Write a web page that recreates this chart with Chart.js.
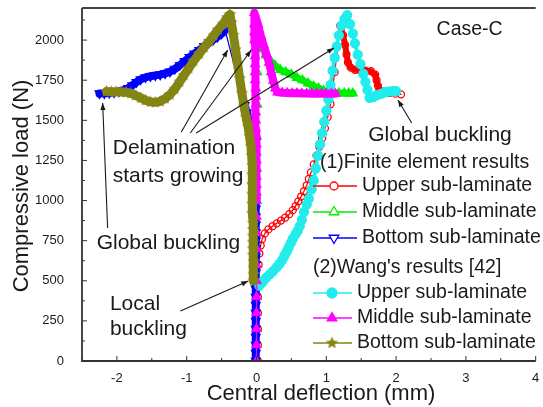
<!DOCTYPE html>
<html>
<head>
<meta charset="utf-8">
<script src="https://cdn.jsdelivr.net/npm/chart.js@4.4.0/dist/chart.umd.min.js"></script>
<style>
  body { margin: 0; background: #fff; }
  #wrap { width: 543px; height: 407px; }
</style>
</head>
<body>
<div id="wrap"><canvas id="plot" width="543" height="407"></canvas></div>
<script>
// [central deflection (mm), compressive load (N)]
const feUpper = [[0.02,0],[0.02,100],[0.02,200],[0.02,300],[0.02,400],[0.02,500],[0.03,600],[0.04,670],[0.06,720],[0.08,760],[0.12,795],[0.17,820],[0.23,840],[0.29,858],[0.35,875],[0.41,893],[0.47,915],[0.52,940],[0.56,965],[0.6,995],[0.64,1025],[0.68,1058],[0.72,1095],[0.75,1135],[0.78,1175],[0.82,1225],[0.86,1280],[0.9,1335],[0.94,1390],[0.98,1450],[1.02,1520],[1.06,1600],[1.12,1800],[1.2,2090],[1.24,2030],[1.27,1970],[1.29,1910],[1.31,1860],[1.35,1828],[1.41,1815],[1.48,1812],[1.56,1810],[1.64,1806],[1.7,1785],[1.72,1750],[1.74,1715],[1.76,1690],[1.83,1678],[1.91,1671],[1.99,1666],[2.07,1662]];
const feMiddle = [[0,0],[0,200],[0,400],[0,600],[0,800],[0,1000],[0,1200],[0,1400],[0.01,1600],[0.01,1800],[0.02,1950],[0.03,2010],[0.08,1950],[0.14,1905],[0.2,1870],[0.27,1840],[0.34,1815],[0.42,1800],[0.5,1785],[0.58,1765],[0.66,1750],[0.74,1730],[0.82,1712],[0.89,1700],[0.96,1685],[1.03,1675],[1.1,1670],[1.18,1670],[1.26,1669],[1.32,1668],[1.38,1668]];
const feBottom = [[-0.01,0],[-0.01,50],[-0.01,100],[-0.01,150],[-0.01,200],[-0.01,250],[-0.01,300],[-0.01,350],[-0.01,400],[-0.01,450],[-0.01,500],[-0.01,550],[-0.01,600],[-0.01,650],[-0.01,700],[-0.01,750],[-0.01,800],[-0.01,850],[-0.01,900],[-0.01,950],[-0.01,1000],[-0.02,1050],[-0.02,1100],[-0.03,1150],[-0.03,1200],[-0.04,1250],[-0.05,1300],[-0.06,1350],[-0.07,1400],[-0.09,1450],[-0.11,1500],[-0.14,1550],[-0.17,1595],[-0.45,2062],[-0.5,2040],[-0.56,2020],[-0.62,2003],[-0.68,1985],[-0.75,1962],[-0.82,1938],[-0.89,1915],[-0.96,1893],[-1.03,1868],[-1.1,1843],[-1.17,1820],[-1.24,1803],[-1.31,1792],[-1.38,1785],[-1.45,1780],[-1.52,1775],[-1.59,1768],[-1.66,1755],[-1.72,1738],[-1.78,1718],[-1.84,1700],[-1.9,1688],[-1.97,1680],[-2.04,1674],[-2.11,1670],[-2.18,1668],[-2.25,1667]];
const wangUpper = [[0.04,470],[0.07,485],[0.1,500],[0.14,520],[0.19,540],[0.24,562],[0.29,585],[0.33,606],[0.37,630],[0.4,656],[0.43,680],[0.46,706],[0.49,734],[0.52,762],[0.56,790],[0.59,812],[0.62,840],[0.65,880],[0.68,930],[0.72,975],[0.75,1012],[0.79,1070],[0.82,1125],[0.85,1200],[0.88,1280],[0.91,1350],[0.94,1420],[0.97,1490],[1.0,1560],[1.03,1630],[1.06,1720],[1.09,1810],[1.12,1890],[1.15,1960],[1.18,2030],[1.22,2090],[1.26,2130],[1.3,2156],[1.34,2100],[1.38,2040],[1.41,1980],[1.45,1910],[1.49,1850],[1.53,1790],[1.56,1740],[1.59,1690],[1.62,1640],[1.67,1645],[1.72,1655],[1.78,1665],[1.84,1675],[1.9,1680],[1.96,1682],[2.0,1682]];
const wangMiddle = [[0,0],[0,100],[0,200],[0,300],[0,400],[0,500],[0,600],[0,700],[0,800],[0,900],[0,1000],[0,1050],[0,1100],[0,1150],[0,1200],[0,1250],[0,1300],[0,1350],[0,1400],[-0.01,1450],[-0.01,1500],[-0.01,1550],[-0.01,1600],[-0.01,1650],[-0.01,1700],[-0.02,1750],[-0.02,1800],[-0.02,1850],[-0.02,1900],[-0.02,1950],[-0.03,2000],[-0.03,2050],[-0.03,2100],[-0.03,2170],[0.02,2100],[0.06,2030],[0.1,1970],[0.14,1915],[0.18,1860],[0.21,1800],[0.24,1748],[0.27,1700],[0.3,1675],[0.37,1672],[0.44,1670],[0.51,1668],[0.58,1668],[0.65,1667],[0.72,1667],[0.79,1666],[0.86,1666],[0.93,1665],[1.0,1665],[1.07,1665],[1.13,1665]];
const wangBottom = [[-0.04,500],[-0.04,540],[-0.04,580],[-0.04,620],[-0.05,660],[-0.05,700],[-0.05,740],[-0.05,780],[-0.05,820],[-0.05,860],[-0.06,920],[-0.06,980],[-0.06,1040],[-0.06,1100],[-0.06,1160],[-0.06,1220],[-0.07,1280],[-0.08,1340],[-0.1,1400],[-0.12,1460],[-0.15,1520],[-0.18,1590],[-0.21,1670],[-0.24,1760],[-0.27,1850],[-0.3,1940],[-0.33,2030],[-0.36,2110],[-0.38,2160],[-0.42,2140],[-0.48,2100],[-0.55,2065],[-0.61,2030],[-0.68,1990],[-0.75,1955],[-0.82,1915],[-0.9,1870],[-0.97,1825],[-1.04,1780],[-1.1,1740],[-1.17,1695],[-1.24,1660],[-1.31,1635],[-1.38,1618],[-1.45,1612],[-1.52,1615],[-1.59,1625],[-1.66,1640],[-1.73,1655],[-1.8,1668],[-1.87,1675],[-1.94,1677],[-2.01,1678],[-2.08,1678],[-2.15,1680]];

const xTicks = [-2, -1, 0, 1, 2, 3, 4];
const xMinor = [-2.5, -1.5, -0.5, 0.5, 1.5, 2.5, 3.5];
const yTicks = [0, 250, 500, 750, 1000, 1250, 1500, 1750, 2000];
const yMinor = [125, 375, 625, 875, 1125, 1375, 1625, 1875, 2125];

const FONT = '"Liberation Sans", Arial, Helvetica, sans-serif';
const TXT = '#1a1a1a';

const RED = '#ff0000', GREEN = '#00ee00', BLUE = '#0000ff';
const CYAN = '#22ecec', MAGENTA = '#ff00ff', OLIVE = '#858515';

// filled five point star used for the olive series
function makeStar(r, color) {
  const s = Math.ceil(r * 2 + 2);
  const c = document.createElement('canvas');
  c.width = s; c.height = s;
  const g = c.getContext('2d');
  g.fillStyle = color;
  g.beginPath();
  for (let i = 0; i < 10; i++) {
    const rr = i % 2 ? r * 0.45 : r;
    const a = -Math.PI / 2 + i * Math.PI / 5;
    g.lineTo(s / 2 + rr * Math.cos(a), s / 2 + rr * Math.sin(a));
  }
  g.closePath();
  g.fill();
  return c;
}
const star = makeStar(6.5, OLIVE);

const toXY = arr => arr.map(p => ({ x: p[0], y: p[1] }));

// densely sampled stretches look like a solid band of markers, long jumps stay thin
const band = (w, gap) => ctx =>
  Math.hypot(ctx.p1.x - ctx.p0.x, ctx.p1.y - ctx.p0.y) > gap ? 1.3 : w;

const redPeak = feUpper.reduce((best, p, i) => p[1] > feUpper[best][1] ? i : best, 0);
const redBand = ctx =>
  ctx.p0DataIndex >= redPeak && feUpper[ctx.p1DataIndex][1] > 1685 ? 6 : 1.3;

function series(data, color, style, filled, radius, order, width, rotation) {
  return {
    data: toXY(data),
    showLine: true,
    borderColor: color,
    borderWidth: 1.3,
    borderCapStyle: 'round',
    borderJoinStyle: 'round',
    segment: { borderWidth: width },
    pointStyle: style,
    pointRotation: rotation || 0,
    pointRadius: radius,
    pointBorderColor: color,
    pointBackgroundColor: filled ? color : 'rgba(0,0,0,0)',
    pointBorderWidth: 1.3,
    order: order
  };
}

function arrow(ctx, x1, y1, x2, y2) {
  ctx.beginPath();
  ctx.moveTo(x1, y1);
  ctx.lineTo(x2, y2);
  ctx.stroke();
  const a = Math.atan2(y2 - y1, x2 - x1), L = 7, W = 2.6;
  ctx.beginPath();
  ctx.moveTo(x2, y2);
  ctx.lineTo(x2 - L * Math.cos(a) + W * Math.sin(a), y2 - L * Math.sin(a) - W * Math.cos(a));
  ctx.lineTo(x2 - L * Math.cos(a) - W * Math.sin(a), y2 - L * Math.sin(a) + W * Math.cos(a));
  ctx.closePath();
  ctx.fill();
}

function marker(ctx, kind, x, y, color, filled) {
  ctx.save();
  ctx.strokeStyle = color;
  ctx.fillStyle = filled ? color : '#fff';
  ctx.lineWidth = 1.3;
  ctx.beginPath();
  if (kind === 'circle') {
    ctx.arc(x, y, filled ? 5 : 4, 0, Math.PI * 2);
  } else if (kind === 'tri' || kind === 'down') {
    const r = 5.5, d = kind === 'down' ? -1 : 1;
    ctx.moveTo(x, y - d * r);
    ctx.lineTo(x + r * 0.87, y + d * r * 0.5);
    ctx.lineTo(x - r * 0.87, y + d * r * 0.5);
    ctx.closePath();
  } else if (kind === 'star') {
    ctx.drawImage(star, x - star.width / 2, y - star.height / 2);
    ctx.restore();
    return;
  }
  ctx.fill();
  ctx.stroke();
  ctx.restore();
}

const decorations = {
  id: 'decorations',
  afterDraw(chart) {
    const { ctx, chartArea: a, scales: { x, y } } = chart;
    const px = v => x.getPixelForValue(v), py = v => y.getPixelForValue(v);
    ctx.save();

    // frame and inward ticks
    ctx.strokeStyle = '#333';
    ctx.lineWidth = 1.8;
    ctx.beginPath();
    ctx.moveTo(a.left, a.top); ctx.lineTo(a.left, a.bottom); ctx.lineTo(a.right, a.bottom);
    ctx.stroke();
    ctx.strokeStyle = '#444';
    ctx.lineWidth = 2;
    ctx.beginPath();
    ctx.moveTo(a.left, a.top); ctx.lineTo(a.right, a.top);
    ctx.stroke();
    ctx.strokeStyle = '#333';
    ctx.lineWidth = 1;
    ctx.beginPath();
    xTicks.forEach(v => { ctx.moveTo(px(v), a.bottom); ctx.lineTo(px(v), a.bottom - 5); });
    xMinor.forEach(v => { ctx.moveTo(px(v), a.bottom); ctx.lineTo(px(v), a.bottom - 3); });
    yTicks.forEach(v => { ctx.moveTo(a.left, py(v)); ctx.lineTo(a.left + 5, py(v)); });
    yMinor.forEach(v => { ctx.moveTo(a.left, py(v)); ctx.lineTo(a.left + 3, py(v)); });
    ctx.stroke();

    // axis titles
    ctx.fillStyle = TXT;
    ctx.font = '22px ' + FONT;
    ctx.textAlign = 'center';
    ctx.textBaseline = 'middle';
    ctx.fillText('Central deflection (mm)', 321, 394);
    ctx.save();
    ctx.translate(22, 186);
    ctx.rotate(-Math.PI / 2);
    ctx.fillText('Compressive load (N)', 0, 0);
    ctx.restore();

    // annotations
    ctx.textAlign = 'left';
    ctx.font = '19.5px ' + FONT;
    ctx.fillText('Case-C', px(2.58), py(2063));
    ctx.font = '21px ' + FONT;
    ctx.fillText('Global buckling', px(1.60), py(1409));
    ctx.fillText('Delamination', px(-2.06), py(1327));
    ctx.fillText('starts growing', px(-2.06), py(1153));
    ctx.fillText('Global buckling', px(-2.29), py(735));
    ctx.fillText('Local', px(-2.10), py(355));
    ctx.fillText('buckling', px(-2.10), py(199));

    ctx.strokeStyle = '#1a1a1a';
    ctx.fillStyle = '#1a1a1a';
    ctx.lineWidth = 1.1;
    arrow(ctx, px(-1.076), py(1427), px(-0.413), py(1938));
    arrow(ctx, px(-0.949), py(1421), px(-0.075), py(1938));
    arrow(ctx, px(-0.864), py(1421), px(1.110), py(1951));
    arrow(ctx, px(-2.133), py(829), px(-2.204), py(1608));
    arrow(ctx, px(2.224), py(1483), px(2.026), py(1627));
    arrow(ctx, px(-1.090), py(312), px(-0.117), py(499));

    // legend
    ctx.fillStyle = TXT;
    ctx.font = '19.5px ' + FONT;
    ctx.fillText('(1)Finite element results', 320, 163);
    ctx.fillText("(2)Wang's results [42]", 313, 268);
    const rows = [
      ['Upper sub-laminate', RED, 'circle', false, 186, 313, 357, 334, 362],
      ['Middle sub-laminate', GREEN, 'tri', false, 212, 313, 357, 334, 362],
      ['Bottom sub-laminate', BLUE, 'down', false, 238, 313, 357, 334, 362],
      ['Upper sub-laminate', CYAN, 'circle', true, 293, 313, 352, 332, 357],
      ['Middle sub-laminate', MAGENTA, 'tri', true, 318, 313, 352, 332, 357],
      ['Bottom sub-laminate', OLIVE, 'star', true, 343, 313, 352, 332, 357]
    ];
    rows.forEach(r => {
      const [label, color, kind, filled, ly, x1, x2, mx, tx] = r;
      ctx.strokeStyle = color;
      ctx.lineWidth = 1.5;
      ctx.beginPath();
      ctx.moveTo(x1, ly); ctx.lineTo(x2, ly);
      ctx.stroke();
      marker(ctx, kind, mx, ly, color, filled);
      ctx.fillStyle = TXT;
      ctx.fillText(label, tx, ly);
    });
    ctx.restore();
  }
};

new Chart(document.getElementById('plot'), {
  type: 'scatter',
  data: {
    datasets: [
      series(wangBottom, OLIVE, star, true, 6, 0, band(9, 20)),
      series(wangMiddle, MAGENTA, 'triangle', true, 5, 0, band(8, 14)),
      series(wangUpper, CYAN, 'circle', true, 4.5, 0, 3.5),
      series(feBottom, BLUE, 'triangle', false, 5, 1, band(8, 20), 180),
      series(feUpper, RED, 'circle', false, 3.5, 1, redBand),
      series(feMiddle, GREEN, 'triangle', false, 5, 1, band(7, 14))
    ]
  },
  options: {
    responsive: false,
    animation: false,
    events: [],
    layout: { padding: { top: 8, right: 0, left: 0, bottom: 0 } },
    plugins: { legend: { display: false }, tooltip: { enabled: false } },
    scales: {
      x: {
        type: 'linear', min: -2.5, max: 4,
        grid: { display: false }, border: { display: false },
        ticks: { font: { family: FONT, size: 13 }, color: TXT, padding: 2, maxRotation: 0, autoSkip: false,
                 callback: v => String(v) },
        afterBuildTicks: s => { s.ticks = xTicks.map(v => ({ value: v })); },
        afterFit: s => { s.height = 46; s.paddingLeft = 0; s.paddingRight = 0; }
      },
      y: {
        type: 'linear', min: 0, max: 2200,
        grid: { display: false }, border: { display: false },
        ticks: { font: { family: FONT, size: 13 }, color: TXT, padding: 10, autoSkip: false,
                 callback: v => String(v) },
        afterBuildTicks: s => { s.ticks = yTicks.map(v => ({ value: v })); },
        afterFit: s => { s.width = 82; s.paddingTop = 0; s.paddingBottom = 0; }
      }
    }
  },
  plugins: [decorations]
});
</script>
</body>
</html>
